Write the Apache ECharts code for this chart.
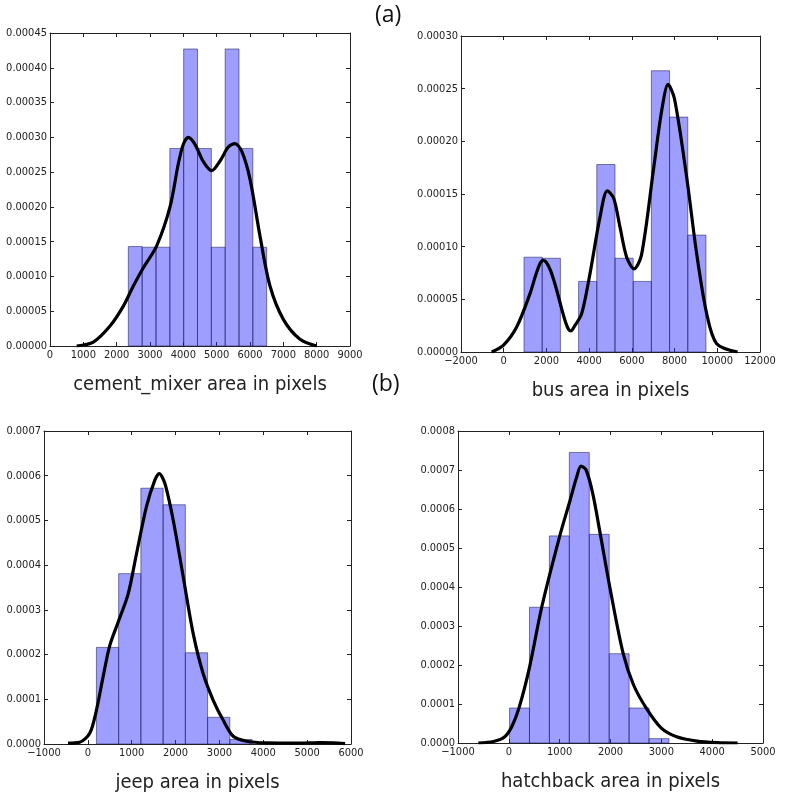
<!DOCTYPE html>
<html>
<head>
<meta charset="utf-8">
<style>
  html, body { margin: 0; padding: 0; background: #fff; }
  #main { width: 785px; height: 802px; }
</style>
<script src="https://cdn.jsdelivr.net/npm/echarts@6/dist/echarts.min.js"></script>
</head>
<body>
<div id="main"></div>
<script>
// ---- cement_mixer ----
var cementEdges = [2350, 2765, 3180, 3595, 4010, 4425, 4840, 5255, 5670, 6085, 6500];
var cementHeights = [0.000143, 0.000142, 0.000142, 0.000284, 0.000427, 0.000284, 0.000142, 0.000427, 0.000284, 0.000142];
var cementCurveX = [800, 1300, 1800, 2200, 2500, 2800, 3200, 3600, 3850, 4000, 4150, 4350, 4600, 4850, 5100, 5350, 5550, 5750, 6000, 6300, 6600, 7000, 7500, 8000];
var cementCurveY = [0, 0.0000057, 0.0000287, 0.0000574, 0.0000862, 0.0001125, 0.000144, 0.000200, 0.000262, 0.000290, 0.000300, 0.000290, 0.000265, 0.000252, 0.000266, 0.000286, 0.000291, 0.000280, 0.000240, 0.000158, 0.0000862, 0.0000383, 0.0000096, 0];

// ---- bus ----
var busEdges = [950, 1802, 2654, 3506, 4358, 5210, 6062, 6914, 7766, 8618, 9470];
var busHeights = [0.000090, 0.000089, 0, 0.000067, 0.000178, 0.000089, 0.000067, 0.000267, 0.000223, 0.000111];
var busCurveX = [-564, -18, 606, 1231, 1500, 1700, 1850, 2000, 2200, 2450, 2700, 2900, 3050, 3150, 3300, 3650, 4040, 4508, 4850, 5150, 5450, 5757, 6100, 6450, 7005, 7396, 7700, 8000, 8566, 9034, 9503, 9971, 10950];
var busCurveY = [0, 0.0000063, 0.0000237, 0.0000554, 0.000073, 0.000084, 0.000087, 0.000085, 0.000077, 0.000061, 0.000042, 0.000028, 0.000021, 0.000020, 0.000024, 0.0000364, 0.0000744, 0.000128, 0.000153, 0.000146, 0.000118, 0.0000900, 0.0000790, 0.0000920, 0.000172, 0.000229, 0.000254, 0.000240, 0.000166, 0.0000934, 0.0000364, 0.0000079, 0];

// ---- jeep ----
var jeepEdges = [195, 702, 1209, 1716, 2223, 2730, 3237, 3744];
var jeepHeights = [0.000216, 0.000381, 0.000572, 0.000535, 0.000204, 0.0000597, 0.00001];
var jeepCurveX = [-452, -186, 43, 195, 347, 499, 700, 918, 1108, 1336, 1527, 1626, 1755, 1945, 2174, 2402, 2630, 2858, 3087, 3315, 3620, 4076, 4837, 5294, 5598, 5865];
var jeepCurveY = [0.000002, 0.000004, 0.000024, 0.0000754, 0.000150, 0.000220, 0.000275, 0.000335, 0.000425, 0.000531, 0.00059, 0.000605, 0.000583, 0.000501, 0.000374, 0.000247, 0.000157, 0.0000978, 0.000053, 0.0000174, 0.0000062, 0.0000025, 0.000002, 0.000003, 0.0000025, 0.000001];

// ---- hatchback ----
var hatchEdges = [14, 406, 798, 1190, 1582, 1974, 2366, 2758, 3150];
var hatchHeights = [0.0000897, 0.000348, 0.000531, 0.000745, 0.000535, 0.000229, 0.0000897, 0.0000112];
var hatchCurveX = [-600, -300, -100, 50, 200, 400, 650, 1000, 1200, 1330, 1420, 1520, 1650, 1800, 2000, 2250, 2450, 2700, 3000, 3300, 3700, 4100, 4500];
var hatchCurveY = [0, 0.000004, 0.000014, 0.00004, 0.00009, 0.00019, 0.00035, 0.00053, 0.00062, 0.00068, 0.00071, 0.000700, 0.00064, 0.000535, 0.00039, 0.000229, 0.00015, 0.00009, 0.000038, 0.000016, 0.000005, 0.000001, 0];

// axis ranges / labels
var xRanges = [[0, 9000, 1000], [-2000, 12000, 2000], [-1000, 6000, 1000], [-1000, 5000, 1000]];
var yRanges = [[0, 0.00045, 0.00005, 5], [0, 0.0003, 0.00005, 5], [0, 0.0007, 0.0001, 4], [0, 0.0008, 0.0001, 4]];
var xNames = ['cement_mixer area in pixels', 'bus area in pixels', 'jeep area in pixels', 'hatchback area in pixels'];

// grid boxes (pixel)
var grids = [
    {left: 50, top: 33, width: 300, height: 313},
    {left: 461, top: 36, width: 299, height: 316},
    {left: 44, top: 431, width: 307, height: 313},
    {left: 458, top: 431, width: 305, height: 312}
];

var tickFont = 'DejaVu Sans Condensed, DejaVu Sans, sans-serif';
var frameColor = '#222';

function makeXAxis(i, pos){
    var r = xRanges[i];
    return {
        type: 'value', gridIndex: i, position: pos,
        min: r[0], max: r[1], interval: r[2],
        splitLine: {show: false},
        axisLine: {show: true, onZero: false, lineStyle: {color: frameColor, width: 1}},
        axisTick: {show: true, inside: true, length: 4, lineStyle: {color: frameColor}},
        axisLabel: {
            show: pos === 'bottom', color: '#222', fontSize: 11, fontFamily: tickFont, margin: 4,
            showMinLabel: true, showMaxLabel: true,
            formatter: function(v){ return v < 0 ? '\u2212' + Math.abs(v) : String(v); }
        },
        name: pos === 'bottom' ? xNames[i] : '',
        nameLocation: 'middle', nameGap: 29,
        nameTextStyle: {color: '#222', fontSize: 20, fontFamily: tickFont}
    };
}

function makeYAxis(i, pos){
    var r = yRanges[i];
    return {
        type: 'value', gridIndex: i, position: pos,
        min: r[0], max: r[1], interval: r[2],
        splitLine: {show: false},
        axisLine: {show: true, onZero: false, lineStyle: {color: frameColor, width: 1}},
        axisTick: {show: true, inside: true, length: 4, lineStyle: {color: frameColor}},
        axisLabel: {
            show: pos === 'left', color: '#222', fontSize: 11, fontFamily: tickFont, margin: 3,
            showMinLabel: true, showMaxLabel: true,
            formatter: function(v){ return v.toFixed(r[3]); }
        }
    };
}

function histSeries(i, edges, heights){
    var data = [];
    for(var k=0;k<heights.length;k++){
        if(heights[k] > 0){
            data.push([edges[k], edges[k+1], heights[k]]);
        }
    }
    return {
        type: 'custom', xAxisIndex: i*2, yAxisIndex: i*2,
        data: data,
        encode: {x: [0, 1], y: 2},
        silent: true,
        renderItem: function(params, api){
            var p0 = api.coord([api.value(0), api.value(2)]);
            var p1 = api.coord([api.value(1), 0]);
            return {
                type: 'rect',
                shape: {x: p0[0], y: p0[1], width: p1[0]-p0[0], height: p1[1]-p0[1]},
                style: {fill: 'rgba(40,40,255,0.45)', stroke: 'rgba(30,30,90,0.55)', lineWidth: 1}
            };
        }
    };
}

function curveSeries(i, xs, ys){
    var data = [];
    for(var k=0;k<xs.length;k++){
        data.push([xs[k], ys[k]]);
    }
    return {
        type: 'line', xAxisIndex: i*2, yAxisIndex: i*2,
        data: data, smooth: 0.3, showSymbol: false, silent: true,
        lineStyle: {color: '#000', width: 3.2},
        z: 5
    };
}

var xAxes = [], yAxes = [];
for(var i=0;i<4;i++){
    xAxes.push(makeXAxis(i, 'bottom'));
    xAxes.push(makeXAxis(i, 'top'));
    yAxes.push(makeYAxis(i, 'left'));
    yAxes.push(makeYAxis(i, 'right'));
}

var series = [
    histSeries(0, cementEdges, cementHeights),
    curveSeries(0, cementCurveX, cementCurveY),
    histSeries(1, busEdges, busHeights),
    curveSeries(1, busCurveX, busCurveY),
    histSeries(2, jeepEdges, jeepHeights),
    curveSeries(2, jeepCurveX, jeepCurveY),
    histSeries(3, hatchEdges, hatchHeights),
    curveSeries(3, hatchCurveX, hatchCurveY)
];

var chart = echarts.init(document.getElementById('main'), null, {renderer: 'canvas'});
chart.setOption({
    animation: false,
    backgroundColor: '#fff',
    grid: grids,
    xAxis: xAxes,
    yAxis: yAxes,
    series: series,
    graphic: [
        {type: 'text', left: 375, top: 4, style: {text: '(a)', fontSize: 23, fontFamily: 'Open Sans, sans-serif', fill: '#111'}},
        {type: 'text', left: 372, top: 373, style: {text: '(b)', fontSize: 23, fontFamily: 'Open Sans, sans-serif', fill: '#111'}}
    ]
});
</script>
</body>
</html>
